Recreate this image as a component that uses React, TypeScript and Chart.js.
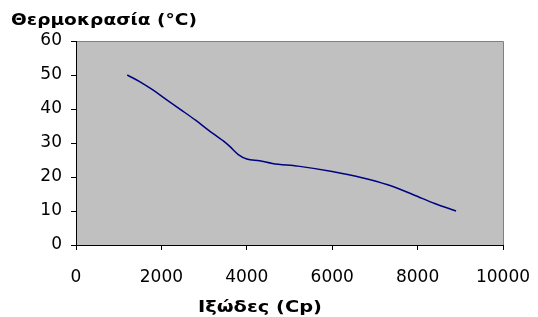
import React, { useEffect, useRef } from "react";
import { Chart, registerables } from "chart.js";

Chart.register(...registerables);

const viscosity = [1200, 1500, 1800, 2100, 2500, 2800, 3100, 3450, 3600, 3800, 4000, 4300, 4600, 5200, 6000, 6700, 7300, 7900, 8400, 8900];
const temperature = [50, 48, 45.6, 42.9, 39.4, 36.7, 33.8, 30.6, 29, 26.6, 25.3, 24.8, 24, 23.2, 21.6, 19.8, 17.7, 14.8, 12.2, 10];
const yTitle = "Θερμοκρασία (°C)";
const xTitle = "Ιξώδες (Cp)";
const xTicks = [0, 2000, 4000, 6000, 8000, 10000];
const yTicks = [0, 10, 20, 30, 40, 50, 60];

const FONT = '"DejaVu Sans", Verdana, sans-serif';

function drawFitted(ctx: any, text: string, left: number, baseline: number, width: number) {
  const w = ctx.measureText(text).width;
  ctx.save();
  ctx.translate(left, baseline);
  ctx.scale(width / w, 1);
  ctx.fillText(text, 0, 0);
  ctx.restore();
}

const framePlugin = {
  id: "frame",
  beforeDraw(chart: any) {
    const { ctx, chartArea } = chart;
    const { left, right, top, bottom } = chartArea;
    ctx.save();
    ctx.fillStyle = "#C0C0C0";
    ctx.fillRect(left, top, right - left, bottom - top);
    ctx.strokeStyle = "#808080";
    ctx.lineWidth = 1;
    ctx.beginPath();
    ctx.moveTo(left, Math.round(top) + 0.5);
    ctx.lineTo(Math.round(right) + 0.5, Math.round(top) + 0.5);
    ctx.lineTo(Math.round(right) + 0.5, bottom);
    ctx.stroke();
    ctx.restore();
  },
  afterDraw(chart: any) {
    const { ctx } = chart;
    ctx.save();
    ctx.fillStyle = "#000000";
    ctx.font = `bold 15px ${FONT}`;
    ctx.textAlign = "left";
    ctx.textBaseline = "alphabetic";
    drawFitted(ctx, yTitle, 11, 25, 186);
    drawFitted(ctx, xTitle, 198, 312, 124);
    ctx.restore();
  },
};

export default function App() {
  const ref = useRef<HTMLCanvasElement | null>(null);
  useEffect(() => {
    document.body.style.margin = "0";
    const canvas = ref.current!;
    const chart = new Chart(canvas, {
      type: "scatter",
      data: {
        datasets: [
          {
            data: viscosity.map((x, i) => ({ x, y: temperature[i] })),
            showLine: true,
            borderColor: "#000080",
            borderWidth: 1.5,
            pointRadius: 0,
            cubicInterpolationMode: "monotone",
            fill: false,
          },
        ],
      },
      options: {
        animation: false,
        responsive: false,
        maintainAspectRatio: false,
        layout: { padding: { top: 41, right: 35, bottom: 0, left: 0 } },
        plugins: { legend: { display: false }, tooltip: { enabled: false }, title: { display: false } },
        scales: {
          x: {
            type: "linear",
            min: 0,
            max: 10000,
            afterBuildTicks: (s: any) => {
              s.ticks = xTicks.map((v) => ({ value: v }));
            },
            afterFit: (s: any) => {
              s.height = 72;
              s.paddingRight = 0;
              s.paddingLeft = 0;
            },
            grid: { drawOnChartArea: false, drawTicks: true, tickLength: 5, color: "#000000" },
            border: { display: true, color: "#000000", width: 1 },
            ticks: {
              color: "#000000",
              font: { family: FONT, size: 17 },
              padding: 17,
              maxRotation: 0,
              autoSkip: false,
              callback: (v: any) => String(v),
            },
          },
          y: {
            type: "linear",
            min: 0,
            max: 60,
            afterBuildTicks: (s: any) => {
              s.ticks = yTicks.map((v) => ({ value: v }));
            },
            afterFit: (s: any) => {
              s.width = 76;
            },
            grid: { drawOnChartArea: false, drawTicks: true, tickLength: 5, color: "#000000" },
            border: { display: true, color: "#000000", width: 1 },
            ticks: { color: "#000000", font: { family: FONT, size: 17 }, padding: 9, callback: (v: any) => String(v) },
          },
        },
      },
      plugins: [framePlugin],
    });
    return () => chart.destroy();
  }, []);
  return (
    <div style={{ width: 538, height: 317 }}>
      <canvas ref={ref} width={538} height={317} style={{ width: 538, height: 317, display: "block" }} />
    </div>
  );
}
